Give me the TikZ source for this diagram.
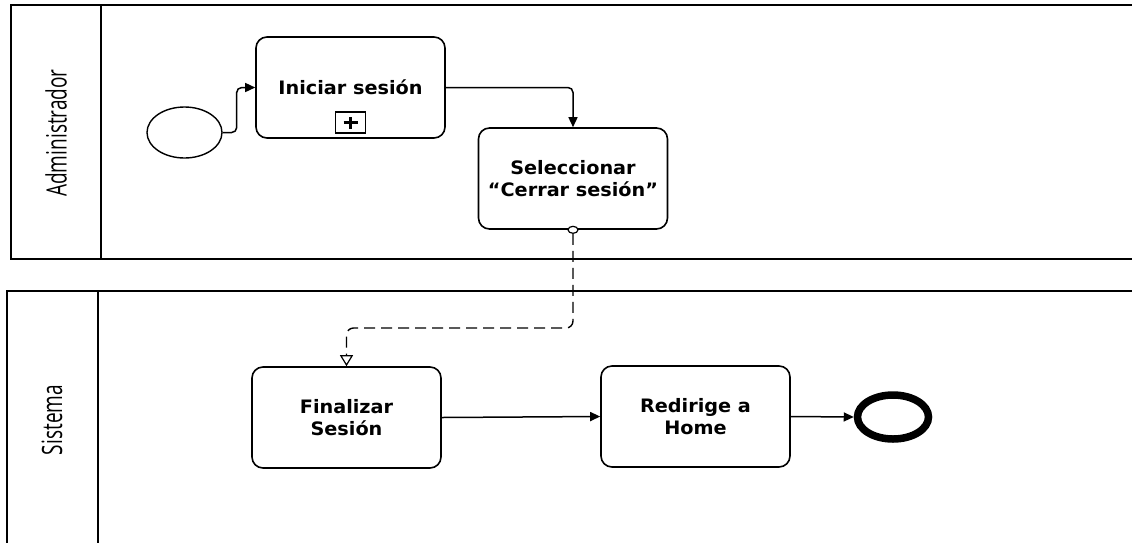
\documentclass[tikz,border=0pt]{standalone}
\usepackage{fontspec}
\usetikzlibrary{arrows.meta,shapes.geometric}
\newfontfamily\taskfont[FakeStretch=1.04]{DejaVu Sans}
\newfontfamily\lanefont[FakeStretch=0.68]{Open Sans}
\begin{document}
\begin{tikzpicture}[x=1pt,y=-1pt,
  lane/.style={line width=2pt},
  task/.style={draw,line width=1.6pt,rounded corners=11pt,minimum width=189pt,
    minimum height=101pt,align=center,inner sep=0pt,
    font=\taskfont\bfseries\fontsize{18.5}{21.5}\selectfont},
  lanelabel/.style={rotate=90,font=\lanefont\fontsize{28}{30}\selectfont,inner sep=0pt},
  flow/.style={line width=1.5pt,rounded corners=5pt,-{Triangle[length=10pt,width=9pt]}},
  msgflow/.style={line width=1.4pt,dash pattern=on 11pt off 6pt,rounded corners=7pt,
    -{Triangle[open,length=11pt,width=13pt,line width=1.2pt]}},
  startev/.style={draw,ellipse,line width=1.4pt,minimum width=75pt,minimum height=51pt,inner sep=0pt},
  endev/.style={draw,ellipse,line width=7.5pt,minimum width=71pt,minimum height=44pt,inner sep=0pt}]
\clip (0,0) rectangle (1132,542);
\fill[white] (0,0) rectangle (1132,542);

% pools / lanes
\draw[lane] (10.5,5) rectangle (1145,259);
\draw[lane] (101,5) -- (101,259);
\draw[lane] (7,290.5) rectangle (1145,560);
\draw[lane] (97.5,290.5) -- (97.5,560);
\node[lanelabel] (admlabel) at (56,133) {Administrador};
\node[lanelabel] (syslabel) at (52,420) {Sistema};

% Administrador lane
\node[startev] (start) at (184.5,132.5) {};
\node[task] (ini) at (350.5,87.5) {Iniciar sesión};
\node[draw,line width=1.3pt,minimum width=30pt,minimum height=21pt,inner sep=0pt]
  (inimark) at (350.5,122.5) {};
\draw[line width=3.2pt] ([xshift=-7pt]inimark.center) -- ([xshift=7pt]inimark.center)
  ([yshift=-6pt]inimark.center) -- ([yshift=6pt]inimark.center);
\node[task] (sel) at (573,178.5) {Seleccionar\\“Cerrar sesión”};

% Sistema lane
\node[task] (fin) at (346.5,417.5) {Finalizar\\Sesión};
\node[task] (red) at (695.5,416.5) {Redirige a\\Home};
\node[endev] (end) at (893,417) {};

% sequence flows
\draw[flow] (start.east) -- ++(14,0) |- (ini.west);
\draw[flow] (ini.east) -| (sel.north);
\draw[flow] (fin.east) -- (red.west);
\draw[flow] (red.east) -- (end.west);

% message flow
\node[draw,ellipse,fill=white,line width=1.2pt,minimum width=10pt,minimum height=7pt,inner sep=0pt]
  (msgsrc) at (sel.south) {};
\coordinate (msgmid) at (460,328);
\draw[msgflow] (msgsrc.south) |- (msgmid) -| (fin.north);
\end{tikzpicture}
\end{document}
